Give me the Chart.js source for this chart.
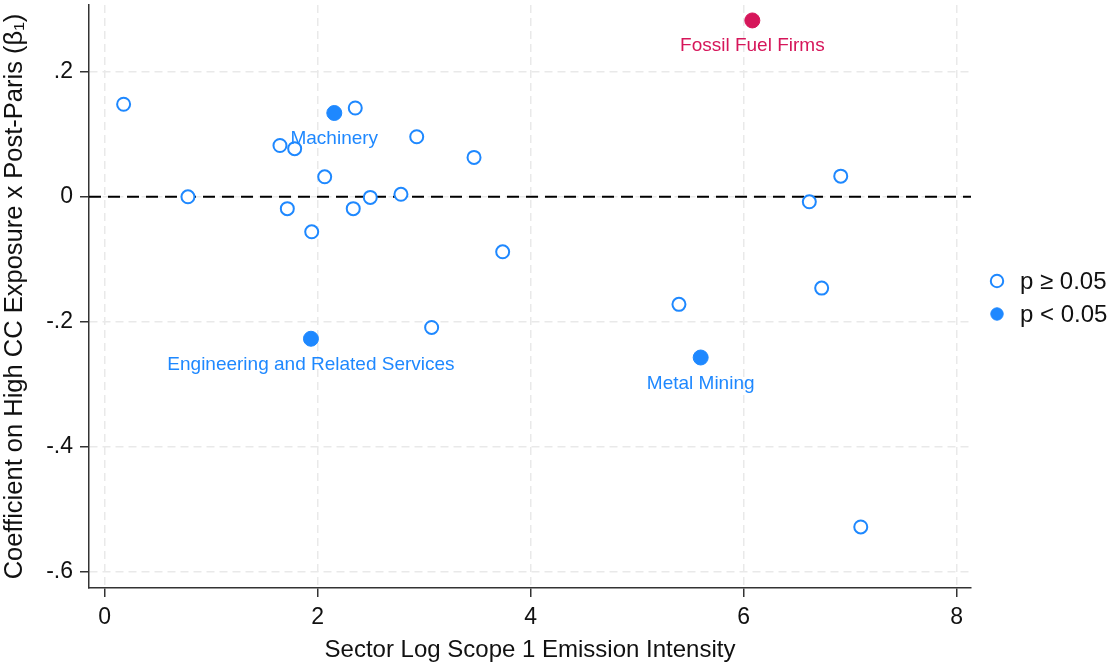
<!DOCTYPE html>
<html>
<head>
<meta charset="utf-8">
<script src="https://cdn.jsdelivr.net/npm/chart.js@4/dist/chart.umd.min.js"></script>
<style>
  html, body { margin: 0; padding: 0; background: #fff; }
  #wrap { width: 1113px; height: 662px; position: relative; }
</style>
</head>
<body>
<div id="wrap"><canvas id="c"></canvas></div>
<script>
// ---- Data ----
const xTickValues = [0, 2, 4, 6, 8];
const yTickValues = [-0.6, -0.4, -0.2, 0, 0.2];

// p >= 0.05 (open markers)
const insigX = [0.178, 0.782, 1.646, 1.784, 1.715, 1.944, 2.066, 2.353, 2.334, 2.494, 2.782, 2.930, 3.468, 3.737, 3.070, 5.392, 6.616, 6.911, 6.732, 7.099];
const insigY = [0.148, 0.000, 0.082, 0.077, -0.019, -0.056, 0.032, 0.142, -0.019, -0.001, 0.004, 0.096, 0.063, -0.088, -0.209, -0.172, -0.008, 0.033, -0.146, -0.528];

// p < 0.05 (filled markers)
const sigX = [2.156, 1.937, 5.596];
const sigY = [0.134, -0.227, -0.257];
const sigLabels = ["Machinery", "Engineering and Related Services", "Metal Mining"];

// Fossil fuel firms
const fossilX = [6.081];
const fossilY = [0.282];
const fossilLabels = ["Fossil Fuel Firms"];

const legendLabels = ["p \u2265 0.05", "p < 0.05"];
const xTitle = "Sector Log Scope 1 Emission Intensity";
const yTitle = "Coefficient on High CC Exposure x Post-Paris (\u03B2\u2081)";

// ---- Styling ----
const BLUE = "rgb(30,136,255)";
const RED = "rgb(214,22,90)";
const FONT = "'Liberation Sans', Arial, sans-serif";

const toPts = (xs, ys) => xs.map((x, i) => ({ x: x, y: ys[i] }));

const zeroLinePlugin = {
  id: "zeroLine",
  beforeDatasetsDraw(chart) {
    const { ctx, chartArea, scales } = chart;
    const y = scales.y.getPixelForValue(0);
    ctx.save();
    ctx.strokeStyle = "#000";
    ctx.lineWidth = 2;
    ctx.setLineDash([12, 7]);
    ctx.beginPath();
    ctx.moveTo(chartArea.left, y);
    ctx.lineTo(chartArea.right, y);
    ctx.stroke();
    ctx.restore();
  }
};

const labelPlugin = {
  id: "pointLabels",
  afterDatasetsDraw(chart) {
    const { ctx } = chart;
    ctx.save();
    ctx.font = "19px " + FONT;
    ctx.textAlign = "center";
    ctx.textBaseline = "alphabetic";
    chart.data.datasets.forEach((ds, di) => {
      if (!ds.pointLabels) return;
      const meta = chart.getDatasetMeta(di);
      meta.data.forEach((el, i) => {
        ctx.fillStyle = ds.labelColor;
        ctx.fillText(ds.pointLabels[i], el.x, el.y + 31);
      });
    });
    ctx.restore();
  }
};

const legendPlugin = {
  id: "customLegend",
  afterDraw(chart) {
    const { ctx, chartArea } = chart;
    const x0 = chartArea.right + 26;
    const ys = [281, 314];
    ctx.save();
    ctx.font = "24px " + FONT;
    ctx.textBaseline = "middle";
    ctx.textAlign = "left";
    [0, 1].forEach((di, k) => {
      const ds = chart.data.datasets[di];
      ctx.beginPath();
      ctx.arc(x0, ys[k], 6.2, 0, Math.PI * 2);
      ctx.fillStyle = ds.backgroundColor;
      ctx.fill();
      ctx.lineWidth = ds.borderWidth;
      ctx.strokeStyle = ds.borderColor;
      ctx.stroke();
      ctx.fillStyle = "#111";
      ctx.fillText(legendLabels[k], x0 + 23, ys[k] + 1);
    });
    ctx.restore();
  }
};

new Chart(document.getElementById("c"), {
  type: "scatter",
  data: {
    datasets: [
      {
        label: legendLabels[0],
        data: toPts(insigX, insigY),
        backgroundColor: "#fff",
        borderColor: BLUE,
        borderWidth: 2,
        pointRadius: 6.5,
        pointHoverRadius: 6.5
      },
      {
        label: legendLabels[1],
        data: toPts(sigX, sigY),
        backgroundColor: BLUE,
        borderColor: BLUE,
        borderWidth: 1,
        pointRadius: 7.5,
        pointHoverRadius: 7.5,
        pointLabels: sigLabels,
        labelColor: BLUE
      },
      {
        label: "Fossil Fuel Firms",
        data: toPts(fossilX, fossilY),
        backgroundColor: RED,
        borderColor: RED,
        borderWidth: 1,
        pointRadius: 7.5,
        pointHoverRadius: 7.5,
        pointLabels: fossilLabels,
        labelColor: RED
      }
    ]
  },
  options: {
    responsive: true,
    maintainAspectRatio: false,
    animation: false,
    events: [],
    layout: { autoPadding: false, padding: { left: 0, top: 5, right: 142, bottom: 0 } },
    plugins: { legend: { display: false }, tooltip: { enabled: false } },
    scales: {
      x: {
        type: "linear",
        min: -0.147,
        max: 8.134,
        afterBuildTicks: (s) => { s.ticks = xTickValues.map(v => ({ value: v })); },
        afterFit: (s) => { s.height = 74; s.paddingLeft = 0; s.paddingRight = 0; },
        ticks: {
          font: { family: FONT, size: 23 },
          color: "#111",
          padding: 7,
          maxRotation: 0,
          callback: (v) => String(v)
        },
        grid: {
          color: "#e9e9e9",
          lineWidth: 1.5,
          tickLength: 9,
          tickColor: "#333",
          tickWidth: 1.5
        },
        border: { display: true, color: "#333", width: 1.5, dash: [8, 5] },
        title: {
          display: true,
          text: xTitle,
          font: { family: FONT, size: 24, lineHeight: 1 },
          color: "#111",
          padding: { top: 0, bottom: 0 }
        }
      },
      y: {
        type: "linear",
        min: -0.6256,
        max: 0.3067,
        afterBuildTicks: (s) => { s.ticks = yTickValues.map(v => ({ value: v })); },
        afterFit: (s) => { s.width = 89; s.paddingTop = 0; s.paddingBottom = 0; },
        ticks: {
          font: { family: FONT, size: 23 },
          color: "#111",
          padding: 7,
          callback: (v) => {
            if (Math.abs(v) < 1e-9) return "0";
            return v.toFixed(1).replace("0.", ".");
          }
        },
        grid: {
          color: "#e9e9e9",
          lineWidth: 1.5,
          tickLength: 9,
          tickColor: "#333",
          tickWidth: 1.5
        },
        border: { display: true, color: "#333", width: 1.5, dash: [8, 5] },
        title: {
          display: true,
          text: yTitle,
          font: { family: FONT, size: 25.5, lineHeight: 1.15 },
          color: "#111",
          padding: { top: 0, bottom: 0 }
        }
      }
    }
  },
  plugins: [zeroLinePlugin, labelPlugin, legendPlugin]
});
</script>
</body>
</html>
